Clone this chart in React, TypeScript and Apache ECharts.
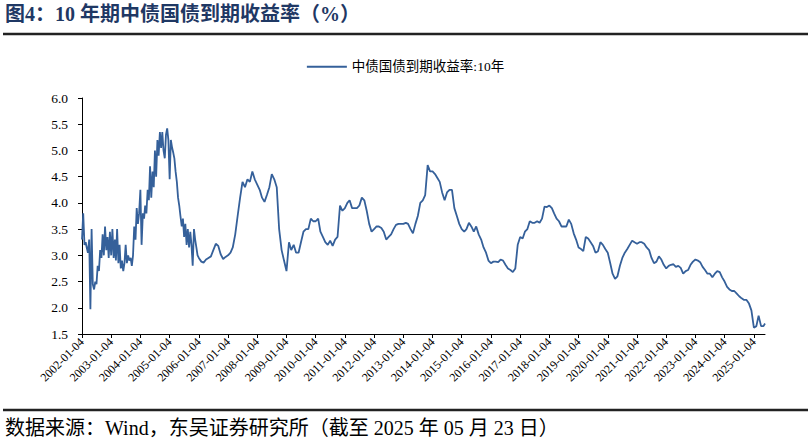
import { useEffect, useRef } from 'react';
import * as echarts from 'echarts';

// 10Y ChinaBond government bond yield (%)
// 2002-2005: two readings per month (4th and 19th)
const yields2002 = [3.3, 3.8, 3.2, 3.25, 3.15, 3.05, 3.3, 1.97, 3.5, 2.45, 2.35, 2.5, 2.45, 2.8, 2.7, 3.1, 2.95, 3.4, 3.0, 3.55, 3.1, 3.35, 2.95, 3.45];
const yields2003 = [3.0, 3.5, 2.95, 3.3, 2.9, 3.5, 2.85, 3.2, 2.75, 2.9, 2.7, 2.85, 3.2, 2.85, 3.0, 2.9, 2.95, 2.8, 3.0, 3.55, 3.3, 3.9, 3.6, 3.8];
const yields2004 = [4.25, 3.2, 3.8, 3.7, 3.95, 3.8, 4.25, 4.05, 4.7, 4.1, 4.6, 4.3, 5.0, 4.5, 5.2, 4.9, 5.35, 5.05, 5.35, 5.0, 4.85, 5.3, 5.42, 5.2];
const yields2005 = [4.45, 5.2, 5.05, 4.95, 4.85, 4.6, 4.4, 4.1, 3.95, 3.75, 3.55, 3.7, 3.35, 3.6, 3.2, 3.5, 3.15, 3.45, 3.2, 2.8, 3.5, 3.3, 3.15, 3.0];

// 2006 onwards: one reading per month (4th)
const yields2006to2010 = [
  2.95, 2.88, 2.86, 2.92, 2.95, 2.98, 3.1, 3.22, 3.18, 3.02, 2.93, 2.97,
  3.0, 3.05, 3.15, 3.4, 3.75, 4.1, 4.4, 4.3, 4.45, 4.4, 4.6, 4.45,
  4.35, 4.25, 4.1, 4.02, 4.15, 4.3, 4.55, 4.45, 4.3, 3.5, 3.1, 2.9,
  2.7, 3.25, 3.1, 3.2, 3.05, 3.05, 3.25, 3.45, 3.5, 3.5, 3.7, 3.65,
  3.65, 3.7, 3.45, 3.35, 3.25, 3.2, 3.28, 3.18, 3.3, 3.35, 3.95, 3.85,
];
const yields2011to2015 = [
  3.9, 4.0, 4.05, 3.9, 3.9, 3.9, 3.95, 4.1, 4.05, 3.85, 3.6, 3.45,
  3.5, 3.55, 3.55, 3.52, 3.45, 3.3, 3.35, 3.4, 3.5, 3.58, 3.6, 3.6,
  3.6, 3.62, 3.6, 3.5, 3.42, 3.6, 3.75, 4.0, 4.05, 4.15, 4.72, 4.6,
  4.6, 4.55, 4.48, 4.4, 4.2, 4.05, 4.2, 4.25, 4.25, 3.9, 3.75, 3.6,
  3.5, 3.45, 3.5, 3.62, 3.55, 3.45, 3.55, 3.4, 3.3, 3.15, 3.05, 2.9,
];
const yields2016to2020 = [
  2.85, 2.88, 2.88, 2.87, 2.92, 2.9, 2.82, 2.75, 2.72, 2.68, 2.75, 3.2,
  3.35, 3.32, 3.45, 3.5, 3.65, 3.62, 3.62, 3.65, 3.62, 3.7, 3.93, 3.92,
  3.95, 3.9, 3.8, 3.7, 3.65, 3.55, 3.55, 3.55, 3.68, 3.6, 3.42, 3.3,
  3.15, 3.12, 3.08, 3.35, 3.32, 3.25, 3.18, 3.05, 3.08, 3.25, 3.2, 3.12,
  3.05, 2.85, 2.65, 2.55, 2.6, 2.8, 2.95, 3.05, 3.12, 3.2, 3.28, 3.25,
];
const yields2021to2025 = [
  3.22, 3.25, 3.25, 3.22, 3.15, 3.1, 2.95, 2.85, 2.88, 2.98, 2.92, 2.82,
  2.75, 2.8, 2.82, 2.83, 2.78, 2.8, 2.76, 2.65, 2.7, 2.72, 2.82, 2.88,
  2.92, 2.9, 2.87, 2.78, 2.72, 2.65, 2.65, 2.58, 2.65, 2.7, 2.68, 2.58,
  2.5, 2.4, 2.35, 2.32, 2.32, 2.27, 2.22, 2.18, 2.15, 2.15, 2.08, 1.95,
  1.62, 1.65, 1.85, 1.65, 1.65,
];
const lastDate = [2025, 4, 23];
const lastYield = 1.7;

const tickYears = [
  2002, 2003, 2004, 2005, 2006, 2007, 2008, 2009, 2010, 2011, 2012, 2013,
  2014, 2015, 2016, 2017, 2018, 2019, 2020, 2021, 2022, 2023, 2024, 2025,
];

const seriesName = '中债国债到期收益率:10年';
const titleText = '图4：10 年期中债国债到期收益率（%）';
const sourceText = '数据来源：Wind，东吴证券研究所（截至 2025 年 05 月 23 日）';

const serif = '"Liberation Serif", "Noto Sans CJK SC", serif';

function buildData() {
  const points: [number, number][] = [];
  const semi = [...yields2002, ...yields2003, ...yields2004, ...yields2005];
  let k = 0;
  for (let y = 2002; y <= 2005; y++) {
    for (let m = 0; m < 12; m++) {
      for (const d of [4, 19]) {
        points.push([Date.UTC(y, m, d), semi[k++]]);
      }
    }
  }
  const monthly = [...yields2006to2010, ...yields2011to2015, ...yields2016to2020, ...yields2021to2025];
  k = 0;
  for (let y = 2006; y <= 2025; y++) {
    for (let m = 0; m < 12 && k < monthly.length; m++) {
      points.push([Date.UTC(y, m, 4), monthly[k++]]);
    }
  }
  points.push([Date.UTC(lastDate[0], lastDate[1], lastDate[2]), lastYield]);
  return points;
}

export default function App() {
  const chartRef = useRef<HTMLDivElement>(null);

  useEffect(() => {
    if (!chartRef.current) return;
    document.body.style.margin = '0';
    const chart = echarts.init(chartRef.current, null, { renderer: 'svg' });

    const ticks = tickYears.map((y) => Date.UTC(y, 0, 4));
    const pad = (n: number) => (n < 10 ? '0' + n : '' + n);

    const option: echarts.EChartsOption = {
      animation: false,
      backgroundColor: '#fff',
      legend: {
        data: [seriesName],
        top: 55,
        left: 'center',
        icon: 'rect',
        itemWidth: 40,
        itemHeight: 2,
        itemGap: 10,
        textStyle: { fontSize: 13.5, color: '#000', fontFamily: serif },
      },
      grid: { left: 82, right: 46, top: 98, bottom: 111 },
      xAxis: {
        type: 'value',
        min: Date.UTC(2002, 0, 4),
        max: Date.UTC(lastDate[0], lastDate[1], lastDate[2]),
        axisLine: { lineStyle: { color: '#000', width: 1 } },
        axisTick: { show: true, customValues: ticks, length: 4, lineStyle: { color: '#000' } },
        axisLabel: {
          customValues: ticks,
          rotate: 45,
          margin: 6,
          fontSize: 12,
          color: '#000',
          fontFamily: serif,
          formatter: (v: number) => {
            const d = new Date(v);
            return `${d.getUTCFullYear()}-${pad(d.getUTCMonth() + 1)}-${pad(d.getUTCDate())}`;
          },
        },
        splitLine: { show: false },
      },
      yAxis: {
        type: 'value',
        min: 1.5,
        max: 6,
        interval: 0.5,
        axisLine: { show: true, lineStyle: { color: '#000', width: 1 } },
        axisTick: { show: true, length: 4, lineStyle: { color: '#000' } },
        axisLabel: {
          margin: 14,
          fontSize: 13.5,
          color: '#000',
          fontFamily: serif,
          formatter: (v: number) => v.toFixed(1),
        },
        splitLine: { show: false },
      },
      series: [
        {
          name: seriesName,
          type: 'line',
          data: buildData(),
          showSymbol: false,
          lineStyle: { color: '#35609A', width: 1.8 },
          itemStyle: { color: '#35609A' },
        },
      ],
      graphic: [
        {
          type: 'text',
          left: 5,
          top: 4,
          style: { text: titleText, font: `bold 20px ${serif}`, fill: '#1F3864' },
        },
        {
          type: 'line',
          shape: { x1: 3, y1: 34, x2: 808, y2: 34 },
          style: { stroke: '#222', lineWidth: 2.5 },
        },
        {
          type: 'line',
          shape: { x1: 3, y1: 410, x2: 808, y2: 410 },
          style: { stroke: '#222', lineWidth: 2.5 },
        },
        {
          type: 'text',
          left: 5,
          top: 418,
          style: { text: sourceText, font: `20px ${serif}`, fill: '#000' },
        },
      ],
    };

    chart.setOption(option);
    return () => chart.dispose();
  }, []);

  return <div ref={chartRef} style={{ width: 811, height: 445 }} />;
}
